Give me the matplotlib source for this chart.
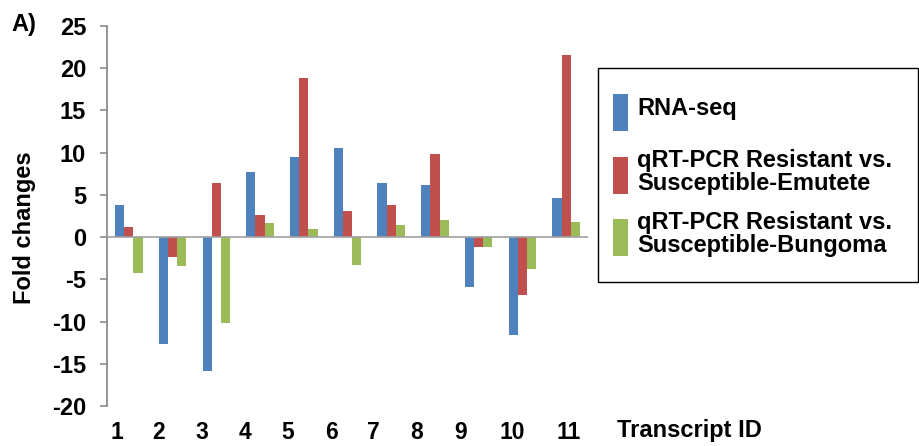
import numpy as np
import matplotlib.pyplot as plt
from matplotlib.patches import Rectangle

plt.rcParams['font.family'] = ['Liberation Sans', 'DejaVu Sans']
plt.rcParams['font.weight'] = 'bold'
plt.rcParams['axes.unicode_minus'] = False

# Data
transcripts = ['1', '2', '3', '4', '5', '6', '7', '8', '9', '10', '11']
rna_seq = [3.8, -12.7, -15.9, 7.7, 9.5, 10.6, 6.4, 6.2, -5.9, -11.6, 4.6]
emutete = [1.2, -2.3, 6.4, 2.6, 18.9, 3.1, 3.8, 9.9, -1.2, -6.9, 21.6]
bungoma = [-4.2, -3.4, -10.2, 1.7, 1.0, -3.3, 1.4, 2.0, -1.2, -3.8, 1.8]
series_names = ['RNA-seq',
                'qRT-PCR Resistant vs.\nSusceptible-Emutete',
                'qRT-PCR Resistant vs.\nSusceptible-Bungoma']
colors = ['#4F81BD', '#C0504D', '#9BBB59']

# Tick label shift (in category units) - labels in the original are not centred
label_shift = [-0.27, -0.32, -0.32, -0.34, -0.37, -0.37, -0.41, -0.41, -0.41, -0.23, 0.05]

W, H = 920, 446
fig = plt.figure(figsize=(W / 100, H / 100), dpi=100)
ax = fig.add_axes([107 / W, 40 / H, (588 - 107) / W, (406 - 26) / H])

x = np.arange(len(transcripts))
bw = 0.21
for k, vals in enumerate([rna_seq, emutete, bungoma]):
    ax.bar(x + (k - 1) * bw, vals, bw, color=colors[k], label=series_names[k], zorder=2)

ax.axhline(0, color='#A0A0A0', linewidth=1.2, zorder=3)
ax.set_xlim(-0.5, len(transcripts) - 0.5)
ax.set_ylim(-20, 25)
ax.set_yticks(np.arange(-20, 26, 5))
ax.set_xticks(x + np.array(label_shift), transcripts)

for s in ['top', 'right', 'bottom']:
    ax.spines[s].set_visible(False)
ax.spines['left'].set_color('#8C8C8C')
ax.spines['left'].set_linewidth(1.3)

ax.tick_params(axis='y', direction='out', length=5, width=1.2, color='#8C8C8C',
               labelsize=17, pad=10)
ax.tick_params(axis='x', length=0, labelsize=16.5, pad=11)

fig.text(617 / W, 1 - 431 / H, 'Transcript ID', fontsize=17, fontweight='bold',
         ha='left', va='center')
fig.text(25 / W, 1 - 228 / H, 'Fold changes', fontsize=17, fontweight='bold',
         rotation=90, ha='center', va='center')
fig.text(11 / W, 1 - 25 / H, 'A)', fontsize=17, fontweight='bold',
         ha='left', va='center')

# Legend box drawn by hand (pixel layout of the original, Excel style tall keys)
fig.patches.append(Rectangle((598 / W, 1 - 282 / H), 320 / W, 214 / H, transform=fig.transFigure,
                             facecolor='white', edgecolor='black', linewidth=1.0))
keyTops = [94, 157, 219]
for k in range(len(series_names)):
    fig.patches.append(Rectangle((613 / W, 1 - (keyTops[k] + 37) / H), 15 / W, 37 / H,
                                 transform=fig.transFigure, facecolor=colors[k], edgecolor='none'))
    fig.text(637 / W, 1 - (keyTops[k] + 15) / H, series_names[k], fontsize=17, fontweight='bold',
             ha='left', va='center', linespacing=1.05)

fig.savefig('out.png', dpi=100)
